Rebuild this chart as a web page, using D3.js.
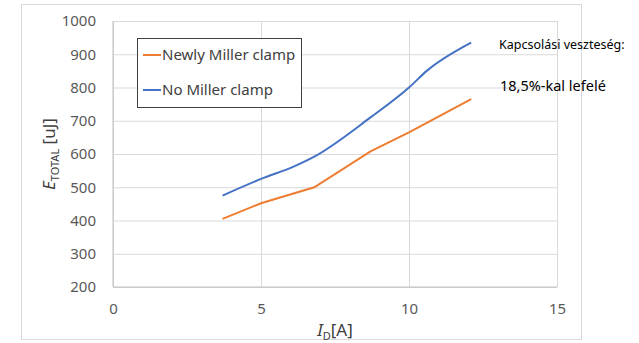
<!DOCTYPE html>
<html lang="hu">
<head>
<meta charset="utf-8">
<title>E_TOTAL vs I_D</title>
<script src="https://d3js.org/d3.v7.min.js"></script>
<style>
  body { margin: 0; background: #fff; }
  text { font-family: "Noto Sans", "Open Sans", sans-serif; }
</style>
</head>
<body>
<script>
// data
const seriesNames = ["Newly Miller clamp", "No Miller clamp"];
const newlyI = [3.7, 5.0, 6.8, 8.7, 10.0, 12.1];
const newlyE = [405, 452, 500, 608, 665, 765];
const noI = [3.7, 5.0, 6.1, 6.8, 8.7, 10.0, 10.6, 12.1];
const noE = [475, 525, 562, 592, 710, 800, 850, 935];
const xTicks = [0, 5, 10, 15];
const yTicks = [200, 300, 400, 500, 600, 700, 800, 900, 1000];
const colors = ["#ED7D31", "#4472C4"];

const width = 639, height = 343;
const margin = { left: 113, right: 82, top: 21, bottom: 56 };

const svg = d3.select("body").append("svg")
  .attr("width", width)
  .attr("height", height);

// outer chart frame
svg.append("rect")
  .attr("x", 21.5).attr("y", 4.5)
  .attr("width", 560).attr("height", 335)
  .attr("fill", "none").attr("stroke", "#d9d9d9");

const x = d3.scaleLinear().domain([0, 15]).range([margin.left, width - margin.right]);
const y = d3.scaleLinear().domain([200, 1000]).range([height - margin.bottom, margin.top]);

// grid
svg.append("g")
  .attr("transform", `translate(0,${height - margin.bottom})`)
  .call(d3.axisBottom(x).tickValues(xTicks).tickSize(-(y.range()[0] - y.range()[1])).tickFormat(""))
  .call(g => g.select(".domain").remove())
  .call(g => g.selectAll("line").attr("stroke", "#d9d9d9"));

svg.append("g")
  .attr("transform", `translate(${margin.left},0)`)
  .call(d3.axisLeft(y).tickValues(yTicks).tickSize(-(x.range()[1] - x.range()[0])).tickFormat(""))
  .call(g => g.select(".domain").remove())
  .call(g => g.selectAll("line").attr("stroke", "#d9d9d9"));

// axis baselines
svg.append("line")
  .attr("x1", x(0)).attr("x2", x(15)).attr("y1", y(200)).attr("y2", y(200))
  .attr("stroke", "#bfbfbf");
svg.append("line")
  .attr("x1", x(0)).attr("x2", x(0)).attr("y1", y(200)).attr("y2", y(1000))
  .attr("stroke", "#bfbfbf");

// tick labels
svg.append("g")
  .attr("transform", `translate(0,${height - margin.bottom})`)
  .call(d3.axisBottom(x).tickValues(xTicks).tickSize(0).tickPadding(16).tickFormat(d3.format("d")))
  .call(g => g.select(".domain").remove())
  .call(g => g.selectAll("text")
    .attr("font-family", "Noto Sans, sans-serif")
    .attr("font-size", 15).attr("fill", "#595959"));

svg.append("g")
  .attr("transform", `translate(${margin.left},0)`)
  .call(d3.axisLeft(y).tickValues(yTicks).tickSize(0).tickPadding(17).tickFormat(d3.format("d")))
  .call(g => g.select(".domain").remove())
  .call(g => g.selectAll("text")
    .attr("font-family", "Noto Sans, sans-serif")
    .attr("font-size", 15).attr("fill", "#595959"));

// lines
const lineLinear = d3.line().x(d => x(d[0])).y(d => y(d[1]));
const lineSmooth = d3.line().x(d => x(d[0])).y(d => y(d[1])).curve(d3.curveMonotoneX);

svg.append("path")
  .datum(newlyI.map((v, i) => [v, newlyE[i]]))
  .attr("d", lineLinear)
  .attr("fill", "none").attr("stroke", colors[0]).attr("stroke-width", 2);

svg.append("path")
  .datum(noI.map((v, i) => [v, noE[i]]))
  .attr("d", lineSmooth)
  .attr("fill", "none").attr("stroke", colors[1]).attr("stroke-width", 2);

// legend
const legend = svg.append("g");
legend.append("rect")
  .attr("x", 137.5).attr("y", 38.5).attr("width", 164).attr("height", 69)
  .attr("fill", "#fff").attr("stroke", "#404040");
seriesNames.forEach((name, i) => {
  const ly = 55 + i * 35;
  legend.append("line")
    .attr("x1", 143).attr("x2", 161).attr("y1", ly).attr("y2", ly)
    .attr("stroke", colors[i]).attr("stroke-width", 2);
  legend.append("text")
    .attr("x", 162).attr("y", ly).attr("dy", "0.35em")
    .attr("font-size", 15).attr("fill", "#404040")
    .text(name);
});

// axis titles
const yTitle = svg.append("text")
  .attr("transform", `translate(55,154) rotate(-90)`)
  .attr("text-anchor", "middle")
  .attr("font-size", 17).attr("fill", "#404040");
yTitle.append("tspan").attr("font-style", "italic").text("E");
yTitle.append("tspan").attr("font-size", 11).attr("dy", 4).text("TOTAL");
yTitle.append("tspan").attr("dy", -4).text(" [uJ]");

const xTitle = svg.append("text")
  .attr("x", 335).attr("y", 336)
  .attr("text-anchor", "middle")
  .attr("font-size", 17).attr("fill", "#404040");
xTitle.append("tspan").attr("font-style", "italic").text("I");
xTitle.append("tspan").attr("font-size", 11).attr("dy", 4).text("D");
xTitle.append("tspan").attr("dy", -4).text("[A]");

// annotation
svg.append("text")
  .attr("x", 499).attr("y", 45).attr("dy", "0.35em")
  .attr("font-size", 12.5).attr("fill", "#000")
  .text("Kapcsolási veszteség:");
svg.append("text")
  .attr("x", 500).attr("y", 86).attr("dy", "0.35em")
  .attr("font-size", 14.5).attr("fill", "#000")
  .text("18,5%-kal lefelé");
</script>
</body>
</html>
